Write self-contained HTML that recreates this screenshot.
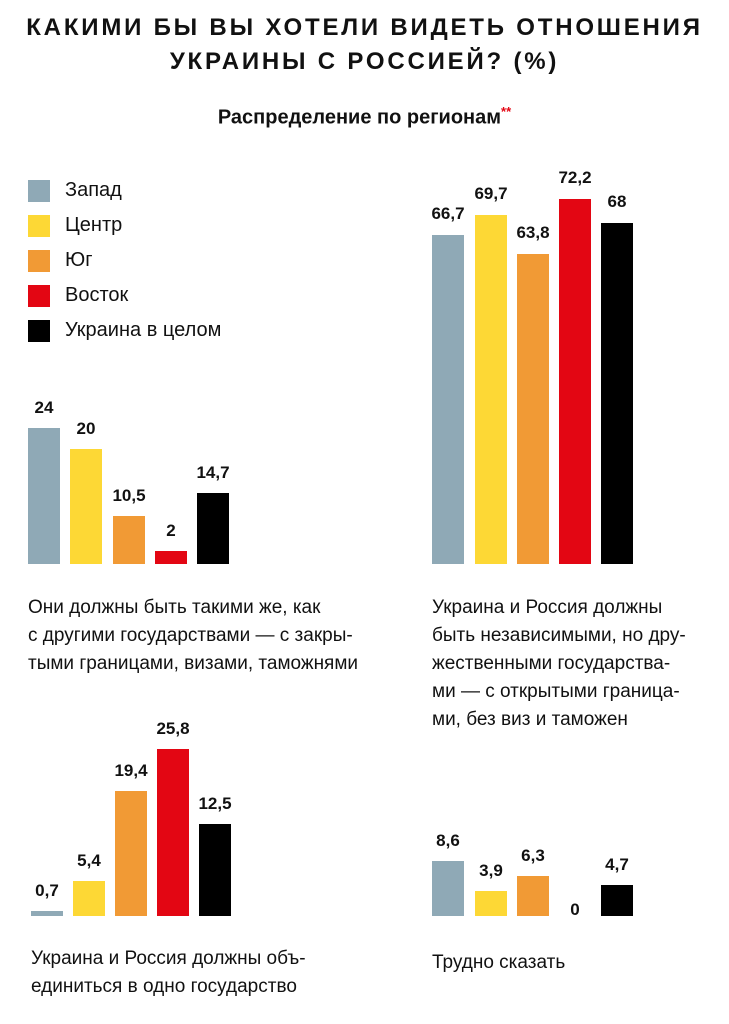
<!DOCTYPE html>
<html><head><meta charset="utf-8"><style>
body{margin:0;width:729px;height:1024px;background:#fff;position:relative;overflow:hidden;font-family:"Liberation Sans","DejaVu Sans",sans-serif;color:#111}
.t{position:absolute;left:0;width:729px;text-align:center;font-weight:bold;font-size:24px;letter-spacing:2.8px}
.b{position:absolute;width:32px}
.v{position:absolute;width:50px;text-align:center;font-weight:bold;font-size:17px}
.lg{position:absolute;left:28px;width:22px;height:22px}
.lt{position:absolute;left:65px;font-size:20px}
.tx{position:absolute;font-size:19px;line-height:28px;white-space:nowrap}
.g{background:#8fa9b6}.y{background:#fdd835}.o{background:#f19a35}.r{background:#e30613}.k{background:#000}
</style></head><body>
<div class="t" style="top:14px">КАКИМИ БЫ ВЫ ХОТЕЛИ ВИДЕТЬ ОТНОШЕНИЯ</div>
<div class="t" style="top:48px">УКРАИНЫ С РОССИЕЙ? (%)</div>
<div style="position:absolute;left:0;width:729px;top:104px;text-align:center;font-weight:bold;font-size:20px">Распределение по регионам<sup style="color:#e30613;font-size:13px">**</sup></div>
<div class="lg g" style="top:180px"></div><div class="lt" style="top:179px">Запад</div>
<div class="lg y" style="top:215px"></div><div class="lt" style="top:214px">Центр</div>
<div class="lg o" style="top:250px"></div><div class="lt" style="top:249px">Юг</div>
<div class="lg r" style="top:285px"></div><div class="lt" style="top:284px">Восток</div>
<div class="lg k" style="top:320px"></div><div class="lt" style="top:319px">Украина в целом</div>

<div class="b g" style="left:28px;top:428px;height:136px"></div><div class="v" style="left:19px;top:398px">24</div>
<div class="b y" style="left:70px;top:449px;height:115px"></div><div class="v" style="left:61px;top:419px">20</div>
<div class="b o" style="left:113px;top:516px;height:48px"></div><div class="v" style="left:104px;top:486px">10,5</div>
<div class="b r" style="left:155px;top:551px;height:13px"></div><div class="v" style="left:146px;top:521px">2</div>
<div class="b k" style="left:197px;top:493px;height:71px"></div><div class="v" style="left:188px;top:463px">14,7</div>
<div class="tx" style="left:28px;top:594px">Они должны быть такими же, как<br>с другими государствами — с закры-<br>тыми границами, визами, таможнями</div>

<div class="b g" style="left:432px;top:235px;height:329px"></div><div class="v" style="left:423px;top:204px">66,7</div>
<div class="b y" style="left:475px;top:215px;height:349px"></div><div class="v" style="left:466px;top:184px">69,7</div>
<div class="b o" style="left:517px;top:254px;height:310px"></div><div class="v" style="left:508px;top:223px">63,8</div>
<div class="b r" style="left:559px;top:199px;height:365px"></div><div class="v" style="left:550px;top:168px">72,2</div>
<div class="b k" style="left:601px;top:223px;height:341px"></div><div class="v" style="left:592px;top:192px">68</div>
<div class="tx" style="left:432px;top:594px">Украина и Россия должны<br>быть независимыми, но дру-<br>жественными государства-<br>ми — с открытыми граница-<br>ми, без виз и таможен</div>

<div class="b g" style="left:31px;top:911px;height:5px"></div><div class="v" style="left:22px;top:881px">0,7</div>
<div class="b y" style="left:73px;top:881px;height:35px"></div><div class="v" style="left:64px;top:851px">5,4</div>
<div class="b o" style="left:115px;top:791px;height:125px"></div><div class="v" style="left:106px;top:761px">19,4</div>
<div class="b r" style="left:157px;top:749px;height:167px"></div><div class="v" style="left:148px;top:719px">25,8</div>
<div class="b k" style="left:199px;top:824px;height:92px"></div><div class="v" style="left:190px;top:794px">12,5</div>
<div class="tx" style="left:31px;top:945px">Украина и Россия должны объ-<br>единиться в одно государство</div>

<div class="b g" style="left:432px;top:861px;height:55px"></div><div class="v" style="left:423px;top:831px">8,6</div>
<div class="b y" style="left:475px;top:891px;height:25px"></div><div class="v" style="left:466px;top:861px">3,9</div>
<div class="b o" style="left:517px;top:876px;height:40px"></div><div class="v" style="left:508px;top:846px">6,3</div>
<div class="v" style="left:550px;top:900px">0</div>
<div class="b k" style="left:601px;top:885px;height:31px"></div><div class="v" style="left:592px;top:855px">4,7</div>
<div class="tx" style="left:432px;top:949px">Трудно сказать</div>
</body></html>
